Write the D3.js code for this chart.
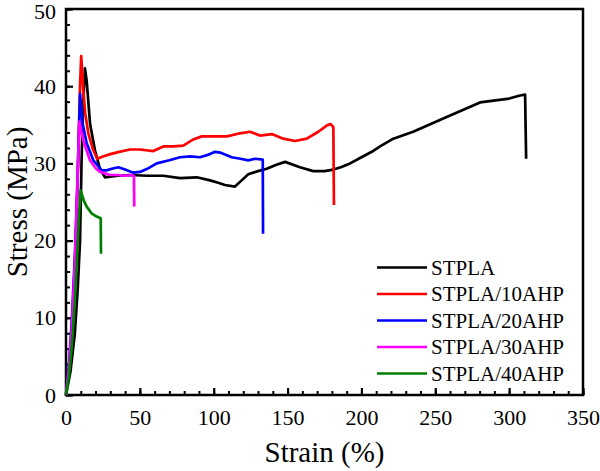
<!DOCTYPE html>
<html>
<head>
<meta charset="utf-8">
<script src="https://cdn.jsdelivr.net/npm/d3@7"></script>
<style>
  html, body { margin: 0; padding: 0; background: #fff; }
  svg { display: block; }
  text { font-family: "Liberation Serif", "Times New Roman", serif; fill: #000; }
</style>
</head>
<body>
<svg id="chart" width="600" height="471"></svg>
<script>
// ---- data ----
const seriesNames = ["STPLA", "STPLA/10AHP", "STPLA/20AHP", "STPLA/30AHP", "STPLA/40AHP"];
const seriesColors = ["#000000", "#ff0000", "#0000ff", "#ff00ff", "#008000"];

const strainSTPLA = [0, 3, 6, 8, 9.5, 10.5, 11.5, 12.8, 14, 16.3, 19.6, 23, 26.4, 35, 43.3, 55, 65.9, 77.2, 88.5, 97.5, 103, 107.6, 114.4, 118.9, 123.4, 130, 135.9, 142, 148.3, 158.4, 167.4, 175, 181, 186, 192.3, 200, 207, 212.6, 221.6, 235, 257.7, 280.3, 300, 307.4, 310.8, 311.5];
const stressSTPLA = [0, 3, 8, 14, 20, 30, 37, 42.3, 40.7, 35.1, 31.7, 29.3, 28.2, 28.4, 28.5, 28.4, 28.4, 28.1, 28.2, 27.8, 27.5, 27.2, 27.0, 27.8, 28.6, 29.0, 29.3, 29.8, 30.2, 29.5, 29.0, 29.0, 29.2, 29.5, 30.0, 30.8, 31.5, 32.2, 33.2, 34.1, 36.0, 37.9, 38.4, 38.8, 38.9, 30.6];

const strain10AHP = [0, 3, 5, 7, 8.5, 9.5, 10.3, 11.7, 13, 15.1, 18.5, 21.2, 25, 30, 36, 43.3, 50, 59.1, 65.9, 72.7, 79.4, 86.2, 91.9, 102, 109, 117.8, 124.6, 131.3, 139.3, 147.1, 155, 163, 170.8, 176.5, 179.2, 181, 181.4];
const stress10AHP = [0, 5, 12, 22, 32, 40, 43.9, 39.5, 36.5, 33.9, 31.7, 30.6, 30.9, 31.2, 31.5, 31.8, 31.8, 31.6, 32.2, 32.2, 32.3, 33.1, 33.5, 33.5, 33.5, 33.9, 34.1, 33.6, 33.8, 33.2, 32.9, 33.2, 34.1, 34.9, 35.1, 34.7, 24.6];

const strain20AHP = [0, 2, 4, 6, 7.5, 8.7, 9.5, 11.3, 14, 18.5, 24.2, 27.5, 31, 35.4, 40, 45.6, 50.1, 55, 61.4, 70, 77.2, 84, 90.7, 96, 100.9, 104.3, 112.2, 118, 123.4, 128, 133.2, 133.4];
const stress20AHP = [0, 4, 10, 18, 26, 34, 39, 35.1, 32.6, 30.4, 29.1, 29.1, 29.3, 29.5, 29.2, 28.8, 28.9, 29.3, 30.0, 30.4, 30.8, 30.9, 30.8, 31.1, 31.5, 31.4, 30.8, 30.6, 30.4, 30.6, 30.5, 20.9];

const strain30AHP = [0, 2, 4, 6, 7.5, 9, 11.7, 16.2, 20, 23, 29.8, 35, 40, 44.5, 46, 46.2];
const stress30AHP = [0, 3.5, 9, 17, 26, 35.4, 33, 30.4, 29.4, 28.9, 28.5, 28.5, 28.4, 28.5, 28.4, 24.4];

const strain40AHP = [0, 2, 4, 6, 7.5, 9, 9.9, 12, 14, 17.4, 20, 23.5, 23.7];
const stress40AHP = [0, 2.5, 6.5, 12.3, 18, 24, 26.5, 25.2, 24.4, 23.5, 23.2, 22.9, 18.3];

const xTickLabels = [0, 50, 100, 150, 200, 250, 300, 350];
const yTickLabels = [0, 10, 20, 30, 40, 50];

const strainArrays = [strainSTPLA, strain10AHP, strain20AHP, strain30AHP, strain40AHP];
const stressArrays = [stressSTPLA, stress10AHP, stress20AHP, stress30AHP, stress40AHP];

// ---- layout ----
const svg = d3.select("#chart");
const L = 66, R = 583, T = 9, B = 395;

const x = d3.scaleLinear().domain([0, 350]).range([L, R]);
const y = d3.scaleLinear().domain([0, 50]).range([B, T]);

// minor ticks
svg.append("g")
  .attr("transform", `translate(0,${B})`)
  .call(d3.axisBottom(x).tickValues(d3.range(0, 351, 10)).tickSize(-4).tickFormat(""))
  .call(g => g.select(".domain").remove())
  .call(g => g.selectAll("line").attr("stroke", "#000").attr("stroke-width", 2));
svg.append("g")
  .attr("transform", `translate(${L},0)`)
  .call(d3.axisLeft(y).tickValues(d3.range(0, 51, 2)).tickSize(-4).tickFormat(""))
  .call(g => g.select(".domain").remove())
  .call(g => g.selectAll("line").attr("stroke", "#000").attr("stroke-width", 2));

// major ticks + labels
svg.append("g")
  .attr("transform", `translate(0,${B})`)
  .call(d3.axisBottom(x).tickValues(xTickLabels).tickSize(-7).tickPadding(14).tickFormat(d3.format("d")))
  .call(g => g.select(".domain").remove())
  .call(g => g.selectAll("line").attr("stroke", "#000").attr("stroke-width", 2.2))
  .call(g => g.selectAll("text").attr("font-size", 22).attr("font-family", "Liberation Serif").attr("fill", "#000"));
svg.append("g")
  .attr("transform", `translate(${L},0)`)
  .call(d3.axisLeft(y).tickValues(yTickLabels).tickSize(-7).tickPadding(10).tickFormat(d3.format("d")))
  .call(g => g.select(".domain").remove())
  .call(g => g.selectAll("line").attr("stroke", "#000").attr("stroke-width", 2.2))
  .call(g => g.selectAll("text").attr("font-size", 22).attr("font-family", "Liberation Serif").attr("fill", "#000"))
  .call(g => g.selectAll(".tick").filter(d => d === 50).select("text").attr("dy", "0.42em"));

// frame
svg.append("rect")
  .attr("x", L).attr("y", T).attr("width", R - L).attr("height", B - T)
  .attr("fill", "none").attr("stroke", "#000").attr("stroke-width", 2.5);

// lines
const line = d3.line().x(d => x(d[0])).y(d => y(d[1])).curve(d3.curveLinear);
seriesNames.forEach((name, i) => {
  const pts = strainArrays[i].map((s, j) => [s, stressArrays[i][j]]);
  svg.append("path")
    .datum(pts)
    .attr("d", line)
    .attr("fill", "none")
    .attr("stroke", seriesColors[i])
    .attr("stroke-width", 2.7)
    .attr("stroke-linejoin", "round");
});

// legend
const legY0 = 267.5, legDY = 26.5;
seriesNames.forEach((name, i) => {
  const yy = legY0 + i * legDY;
  svg.append("line")
    .attr("x1", 377).attr("x2", 427).attr("y1", yy).attr("y2", yy)
    .attr("stroke", seriesColors[i]).attr("stroke-width", 2.7);
  svg.append("text")
    .attr("x", 431).attr("y", yy + 7)
    .attr("font-size", 21)
    .text(name);
});

// axis titles
svg.append("text")
  .attr("x", (L + R) / 2).attr("y", 462)
  .attr("text-anchor", "middle").attr("font-size", 29)
  .text("Strain (%)");
svg.append("text")
  .attr("transform", `translate(27,${(T + B) / 2}) rotate(-90)`)
  .attr("text-anchor", "middle").attr("font-size", 29)
  .text("Stress (MPa)");
</script>
</body>
</html>
